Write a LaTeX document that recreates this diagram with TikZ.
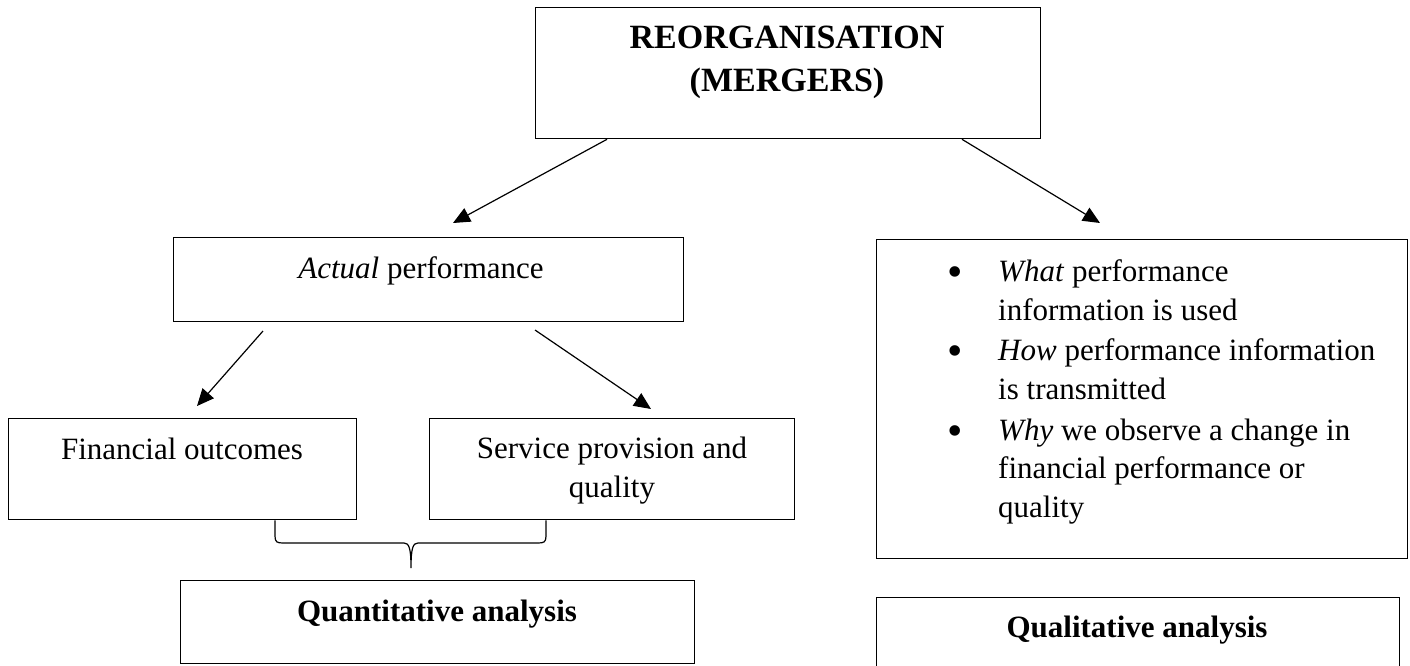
\documentclass[tikz,border=0pt]{standalone}
\usepackage{fontspec}
\setmainfont{Liberation Serif}
\usetikzlibrary{arrows.meta,calc}
\begin{document}
\begin{tikzpicture}[x=1pt,y=-1pt,
  box/.style={draw, line width=1.3pt, inner sep=0pt, anchor=north west},
  txt/.style={inner sep=0pt, anchor=base, font=\fontsize{31}{38}\selectfont},
  ltxt/.style={txt, anchor=base west},
  bul/.style={inner sep=0pt, anchor=base, font=\fontsize{44}{44}\selectfont},
  btxt/.style={txt, font=\fontsize{31}{38}\selectfont\bfseries},
  ttl/.style={txt, font=\fontsize{34}{40}\selectfont\bfseries},
  arr/.style={line width=1.2pt, -{Triangle[length=17pt,width=15pt]}},
  brace/.style={line width=1.2pt},
  ]
\useasboundingbox (0,0) rectangle (1410,665);
\clip (0,0) rectangle (1410,665);

% boxes
\node[box, minimum width=505pt, minimum height=131pt] (top) at (535,7) {};
\node[box, minimum width=510pt, minimum height=84pt] (act) at (173,237) {};
\node[box, minimum width=348pt, minimum height=101pt] (fin) at (8,418) {};
\node[box, minimum width=365pt, minimum height=101pt] (serv) at (429,418) {};
\node[box, minimum width=514pt, minimum height=83pt] (quant) at (180,580) {};
\node[box, minimum width=531pt, minimum height=319pt] (info) at (876,239) {};
\node[box, minimum width=523pt, minimum height=100pt] (qual) at (876,597) {};

% texts
\node[ttl] (t1) at (787,48) {REORGANISATION};
\node[ttl] (t2) at (787,91) {(MERGERS)};
\node[txt] (ta) at (421,278) {\textit{Actual} performance};
\node[txt] (tf) at (182,459) {Financial outcomes};
\node[txt] (ts1) at (612,458) {Service provision and};
\node[txt] (ts2) at (612,497) {quality};
\node[btxt] (tq) at (437,621) {Quantitative analysis};
\node[btxt] (tl) at (1137,637) {Qualitative analysis};

\node[bul] (b1) at (955,286) {•};
\node[bul] (b2) at (955,365) {•};
\node[bul] (b3) at (955,445) {•};
\node[ltxt] (l1) at (998,281) {\textit{What} performance};
\node[ltxt] (l2) at (998,320) {information is used};
\node[ltxt] (l3) at (998,360) {\textit{How} performance information};
\node[ltxt] (l4) at (998,399) {is transmitted};
\node[ltxt] (l5) at (998,440) {\textit{Why} we observe a change in};
\node[ltxt] (l6) at (998,478) {financial performance or};
\node[ltxt] (l7) at (998,517) {quality};

% arrows
\coordinate (e1) at (453,223);
\coordinate (e2) at (1100,223);
\coordinate (s3) at (263,331);
\coordinate (e3) at (197,406);
\coordinate (s4) at (535,330);
\coordinate (e4) at (651,409);
\draw[arr] ($(top.south west)+(72,0)$) -- (e1);
\draw[arr] ($(top.south west)+(427,0)$) -- (e2);
\draw[arr] (s3) -- (e3);
\draw[arr] (s4) -- (e4);

% brace
\draw[brace] ($(fin.south west)+(267,0)$) -- (275,536)
  .. controls (275,542) and (277,543) .. (283,543) -- (404,543)
  .. controls (409,543) and (411,548) .. (411,568)
  .. controls (411,548) and (413,543) .. (418,543) -- (538,543)
  .. controls (544,543) and (546,542) .. (546,536) -- ($(serv.south west)+(117,0)$);
\end{tikzpicture}
\end{document}
